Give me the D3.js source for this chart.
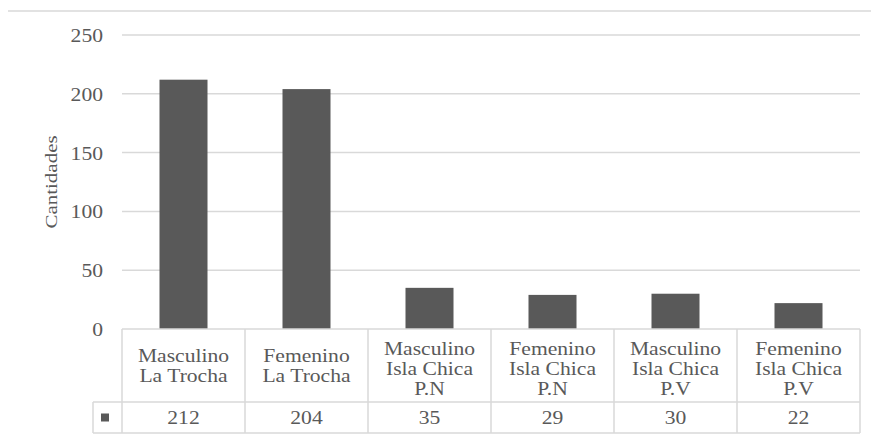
<!DOCTYPE html>
<html lang="es">
<head>
<meta charset="UTF-8">
<title>Cantidades</title>
<style>
  body { margin: 0; background: #fff; }
</style>
</head>
<body>
<script src="https://cdn.jsdelivr.net/npm/d3@7"></script>
<script>
var categories = [
  ["Masculino", "La Trocha"],
  ["Femenino", "La Trocha"],
  ["Masculino", "Isla Chica", "P.N"],
  ["Femenino", "Isla Chica", "P.N"],
  ["Masculino", "Isla Chica", "P.V"],
  ["Femenino", "Isla Chica", "P.V"]
];
var values = [212, 204, 35, 29, 30, 22];
var yTicks = [0, 50, 100, 150, 200, 250];
var yTitle = "Cantidades";

var width = 871, height = 440,
    plotLeft = 122, plotRight = 860,
    plotTop = 35, plotBottom = 329,
    row1 = 402, row2 = 433, legendLeft = 93,
    font = "'Liberation Serif', 'Times New Roman', Tinos, 'DejaVu Serif', serif",
    ink = "#595959",
    stretch = 1.2;   // the reference text is a bit wider than normal

var svg = d3.select("body").append("svg")
  .attr("width", width)
  .attr("height", height)
  .attr("font-family", font);

// thin border line across the top
svg.append("line")
  .attr("x1", 8).attr("x2", width)
  .attr("y1", 11).attr("y2", 11)
  .attr("stroke", "#d9d9d9").attr("stroke-width", 1.5);

var x = d3.scaleBand()
  .domain(d3.range(categories.length))
  .range([plotLeft, plotRight])
  .paddingInner(0)
  .paddingOuter(0);

var y = d3.scaleLinear()
  .domain([0, 250])
  .range([plotBottom, plotTop]);

// gridlines
svg.append("g")
  .selectAll("line")
  .data(yTicks.filter(function(d){ return d > 0; }))
  .enter().append("line")
  .attr("x1", plotLeft).attr("x2", plotRight)
  .attr("y1", function(d){ return y(d); })
  .attr("y2", function(d){ return y(d); })
  .attr("stroke", "#d9d9d9").attr("stroke-width", 1.5);

// y axis labels
var yAxis = d3.axisLeft(y).tickValues(yTicks).tickSize(0).tickPadding(0);
var gy = svg.append("g")
  .attr("transform", "translate(103,0)")
  .call(yAxis)
  .attr("font-family", font)
  .attr("font-size", 18);
gy.select(".domain").remove();
gy.selectAll("text")
  .attr("fill", ink)
  .attr("dy", "0.36em")
  .attr("transform", "scale(" + stretch + ",1)")
  .attr("x", 0);

svg.append("text")
  .attr("transform", "translate(51,182) rotate(-90) scale(" + stretch + ",1)")
  .attr("text-anchor", "middle")
  .attr("dy", "0.35em")
  .attr("font-size", 17.5)
  .attr("fill", ink)
  .text(yTitle);

// bars
var barW = 48;
svg.append("g")
  .selectAll("rect")
  .data(values)
  .enter().append("rect")
  .attr("x", function(d, i){ return x(i) + x.bandwidth() / 2 - barW / 2; })
  .attr("y", function(d){ return y(d); })
  .attr("width", barW)
  .attr("height", function(d){ return y(0) - y(d); })
  .attr("fill", ink);

// data table
var grid = svg.append("g")
  .attr("stroke", "#d9d9d9").attr("stroke-width", 1.5).attr("fill", "none");
grid.append("line").attr("x1", plotLeft).attr("x2", plotRight).attr("y1", plotBottom).attr("y2", plotBottom);
grid.append("line").attr("x1", legendLeft).attr("x2", plotRight).attr("y1", row1).attr("y2", row1);
grid.append("line").attr("x1", legendLeft).attr("x2", plotRight).attr("y1", row2).attr("y2", row2);
grid.append("line").attr("x1", legendLeft).attr("x2", legendLeft).attr("y1", row1).attr("y2", row2);
grid.selectAll("line.v")
  .data(d3.range(categories.length + 1))
  .enter().append("line")
  .attr("class", "v")
  .attr("x1", function(i){ return plotLeft + i * x.bandwidth(); })
  .attr("x2", function(i){ return plotLeft + i * x.bandwidth(); })
  .attr("y1", plotBottom).attr("y2", row2);

// category labels
var labels = svg.append("g");
categories.forEach(function(lines, i){
  var cx = x(i) + x.bandwidth() / 2;
  var lh = 20;
  var startY = (lines.length === 3 ? 369 : 366) - (lines.length - 1) * lh / 2 + 6;
  var t = labels.append("text")
    .attr("transform", "translate(" + cx + ",0) scale(" + stretch + ",1)")
    .attr("text-anchor", "middle")
    .attr("font-size", 18)
    .attr("fill", ink);
  lines.forEach(function(s, k){
    t.append("tspan").attr("x", 0).attr("y", startY + k * lh).text(s);
  });
});

// value row
svg.append("g")
  .selectAll("text")
  .data(values)
  .enter().append("text")
  .attr("transform", function(d, i){
    return "translate(" + (x(i) + x.bandwidth() / 2) + "," + ((row1 + row2) / 2 + 6) + ") scale(" + stretch + ",1)";
  })
  .attr("text-anchor", "middle")
  .attr("font-size", 18)
  .attr("fill", ink)
  .text(function(d){ return d; });

// legend key
svg.append("rect")
  .attr("x", 101).attr("y", (row1 + row2) / 2 - 4)
  .attr("width", 8).attr("height", 8)
  .attr("fill", ink);
</script>
</body>
</html>
